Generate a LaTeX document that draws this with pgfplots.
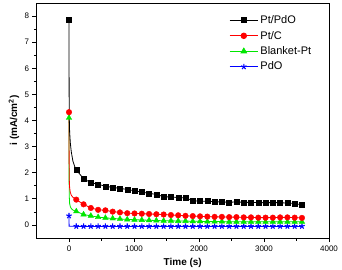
\documentclass[border=0pt]{standalone}
\usepackage{fontspec}
\setmainfont{Liberation Sans}
\usepackage{pgfplots}
\usepackage{pgfplotstable}
\pgfplotsset{compat=1.18}

\definecolor{cblack}{RGB}{0,0,0}
\definecolor{cred}{RGB}{255,0,0}
\definecolor{cgreen}{RGB}{0,230,0}
\definecolor{cblue}{RGB}{0,0,255}

% initial current decay (first ~100 s, line only)
\pgfplotstableread{
t    ptpdo  ptc   blanket  pdo
0    7.85   4.32  4.10     0.35
2    5.00   2.40  1.60    -0.05
5    4.00   1.70  1.05    -0.05
10   3.55   1.42  0.82    -0.05
20   3.15   1.25  0.70    -0.05
35   2.80   1.14  0.63    -0.05
60   2.45   1.06  0.57    -0.05
90   2.22   1.00  0.54    -0.05
112  2.11   0.97  0.52    -0.05
}\transient

% chronoamperometry, sampled every 112 s
\pgfplotstableread{
t     ptpdo  ptc   blanket  pdo
0     7.85   4.32  4.10     0.35
112   2.11   0.97  0.52    -0.05
224   1.77   0.79  0.40    -0.05
336   1.62   0.65  0.35    -0.05
448   1.56   0.58  0.30    -0.05
560   1.48   0.56  0.27    -0.05
672   1.44   0.51  0.25    -0.05
784   1.40   0.48  0.23    -0.05
896   1.36   0.45  0.21    -0.05
1008  1.31   0.44  0.20    -0.05
1120  1.26   0.43  0.19    -0.05
1232  1.21   0.42  0.18    -0.05
1344  1.17   0.41  0.17    -0.05
1456  1.08   0.40  0.16    -0.05
1568  1.07   0.38  0.16    -0.05
1680  1.05   0.37  0.15    -0.05
1792  1.04   0.35  0.15    -0.05
1904  0.93   0.34  0.14    -0.05
2016  0.91   0.33  0.14    -0.05
2128  0.91   0.32  0.13    -0.05
2240  0.89   0.31  0.13    -0.05
2352  0.88   0.31  0.13    -0.05
2464  0.87   0.30  0.12    -0.05
2576  0.88   0.30  0.12    -0.05
2688  0.87   0.29  0.12    -0.05
2800  0.86   0.29  0.12    -0.05
2912  0.86   0.28  0.12    -0.05
3024  0.85   0.28  0.12    -0.05
3136  0.86   0.28  0.12    -0.05
3248  0.85   0.29  0.12    -0.05
3360  0.84   0.29  0.12    -0.05
3472  0.82   0.28  0.12    -0.05
3584  0.77   0.27  0.12    -0.05
}\grid

\begin{document}
\begin{tikzpicture}
\begin{axis}[
  at={(0,0)}, anchor=south west,
  width=292.5pt, height=235pt, scale only axis,
  xmin=-500, xmax=4000, ymin=-0.5, ymax=8.5,
  xtick={0,1000,2000,3000,4000},
  ytick={0,1,2,3,4,5,6,7,8},
  minor x tick num=1, minor y tick num=1,
  tick align=outside, tick pos=left,
  major tick length=4pt, minor tick length=2.5pt,
  axis line style={line width=0.8pt},
  every tick/.style={black, line width=0.7pt},
  scaled x ticks=false,
  /pgf/number format/1000 sep={},
  /pgf/number format/assume math mode=true,
  ticklabel style={font=\fontsize{8}{9}\selectfont},
  xlabel={\textbf{Time (s)}},
  ylabel={\textbf{i (mA/cm\textsuperscript{2})}},
  label style={font=\fontsize{8.5}{10}\selectfont},
  every axis x label/.style={at={(axis description cs:0.5,-0.106)}, anchor=center},
  every axis y label/.style={at={(axis description cs:-0.077,0.5)}, rotate=90, anchor=center},
  legend style={draw=none, fill=none, at={(0.95,0.96)}, anchor=north east,
    font=\fontsize{11}{13}\selectfont, row sep=2pt, inner sep=1pt,
    cells={anchor=west}},
  legend image code/.code={\draw[#1, mark repeat=2, mark phase=2]
     plot coordinates {(0cm,0cm) (0.5cm,0cm) (1cm,0cm)};},
]
% legend entries
\addlegendimage{cblack, line width=0.8pt, mark=square*, mark size=2.5pt, mark options={solid}}
\addlegendentry{Pt/PdO}
\addlegendimage{cred, line width=0.8pt, mark=*, mark size=2.8pt}
\addlegendentry{Pt/C}
\addlegendimage{cgreen, line width=0.8pt, mark=triangle*, mark size=3.2pt}
\addlegendentry{Blanket-Pt}
\addlegendimage{cblue, line width=0.8pt, mark=star, mark size=2.9pt, mark options={line width=1.1pt}}
\addlegendentry{PdO}

% PdO
\addplot[cblue, line width=0.8pt, no marks, forget plot] table[x=t, y=pdo]{\transient};
\addplot[cblue, line width=0.8pt, no marks, forget plot, skip coords between index={0}{1}] table[x=t, y=pdo]{\grid};
\addplot[cblue, only marks, mark=star, mark size=2.9pt, mark options={line width=1.1pt}, forget plot] table[x=t, y=pdo]{\grid};
% Blanket-Pt
\addplot[cgreen, line width=0.8pt, no marks, forget plot] table[x=t, y=blanket]{\transient};
\addplot[cgreen, line width=0.8pt, no marks, forget plot, skip coords between index={0}{1}] table[x=t, y=blanket]{\grid};
\addplot[cgreen, only marks, mark=triangle*, mark size=3.2pt, forget plot] table[x=t, y=blanket]{\grid};
% Pt/C
\addplot[cred, line width=0.8pt, no marks, forget plot] table[x=t, y=ptc]{\transient};
\addplot[cred, line width=0.8pt, no marks, forget plot, skip coords between index={0}{1}] table[x=t, y=ptc]{\grid};
\addplot[cred, only marks, mark=*, mark size=2.8pt, forget plot] table[x=t, y=ptc]{\grid};
% Pt/PdO
\addplot[cblack, line width=0.8pt, no marks, forget plot] table[x=t, y=ptpdo]{\transient};
\addplot[cblack, line width=0.8pt, no marks, forget plot, skip coords between index={0}{1}] table[x=t, y=ptpdo]{\grid};
\addplot[cblack, only marks, mark=square*, mark size=2.5pt, forget plot] table[x=t, y=ptpdo]{\grid};
\end{axis}
\pgfresetboundingbox
\path[use as bounding box] (-36.5pt,-31pt) rectangle (305.5pt,238pt);
\end{tikzpicture}
\end{document}
